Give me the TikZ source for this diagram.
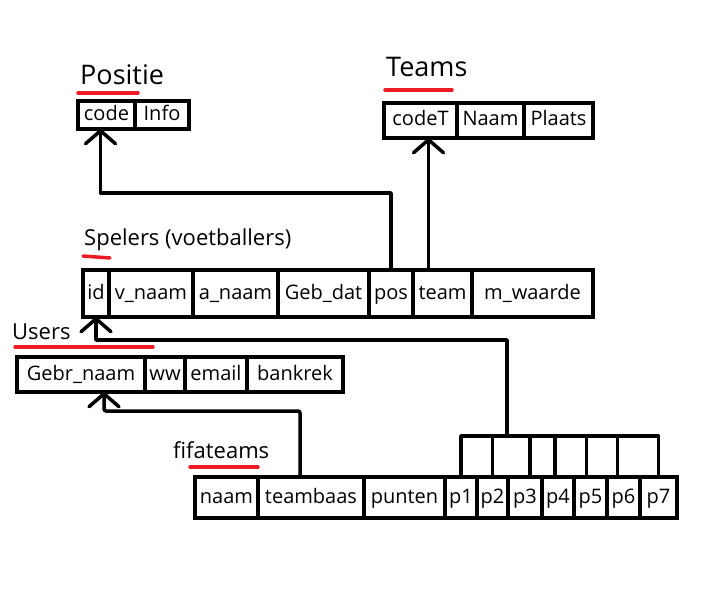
\documentclass[tikz,border=0pt]{standalone}
\usepackage{fontspec}
\setmainfont{Open Sans}
\usetikzlibrary{positioning, arrows.meta}
\definecolor{penred}{RGB}{237,28,36}

\begin{document}
\begin{tikzpicture}[x = 1pt, y = -1pt,
    cell/.style = {draw, line width = 4pt, inner sep = 0pt, outer sep = 0pt, text height = 15pt, text depth = 4pt, font = \fontsize{20}{20}\selectfont},
    title/.style = {inner sep = 0pt, anchor = base west, font = \fontsize{22}{22}\selectfont},
    redline/.style = {draw = penred, line width = 3.5pt, line cap = round},
    link/.style = {line width = 3.5pt, line cap = round, line join = round},
    fk/.style = {link, -{Straight Barb[length = 13pt, width = 30pt, round]}}]
    \fill[white] (0,0) rectangle (710,599);
    \useasboundingbox (0,0) rectangle (710,599);

    % Positie
    \node[title, font = \fontsize{27}{27}\selectfont] (positie) at (80,85) {Positie};
    \draw[redline] (78,93) -- (138,93);
    \begin{scope}[every node/.append style = {minimum height = 28pt}]
        \node[cell, minimum width = 57pt, anchor = north west] (pos-code) at (78,101) {code};
        \node[cell, minimum width = 54pt, right = 0pt of pos-code] (pos-info) {Info};
    \end{scope}

    % Teams
    \node[title, font = \fontsize{27}{27}\selectfont] (teams) at (386,77) {Teams};
    \draw[redline] (385,90) -- (452,90);
    \begin{scope}[every node/.append style = {minimum height = 35pt}]
        \node[cell, minimum width = 73pt, anchor = north west] (tm-codeT) at (384,103) {codeT};
        \node[cell, minimum width = 67pt, right = 0pt of tm-codeT] (tm-naam) {Naam};
        \node[cell, minimum width = 69pt, right = 0pt of tm-naam] (tm-plaats) {Plaats};
    \end{scope}

    % Spelers
    \node[title] (spelers) at (84,245) {Spelers (voetballers)};
    \draw[redline] (83,256) -- (110,258);
    \begin{scope}[every node/.append style = {minimum height = 47pt}]
        \node[cell, minimum width = 26pt, anchor = north west] (sp-id) at (83,270) {id};
        \node[cell, minimum width = 84pt, right = 0pt of sp-id] (sp-vnaam) {v\_naam};
        \node[cell, minimum width = 85pt, right = 0pt of sp-vnaam] (sp-anaam) {a\_naam};
        \node[cell, minimum width = 91pt, right = 0pt of sp-anaam] (sp-gebdat) {Geb\_dat};
        \node[cell, minimum width = 44pt, right = 0pt of sp-gebdat] (sp-pos) {pos};
        \node[cell, minimum width = 59pt, right = 0pt of sp-pos] (sp-team) {team};
        \node[cell, minimum width = 121pt, right = 0pt of sp-team] (sp-mwaarde) {m\_waarde};
    \end{scope}

    % Users
    \node[title] (users) at (12,339) {Users};
    \draw[redline] (15,347) -- (153,347);
    \begin{scope}[every node/.append style = {minimum height = 35pt}]
        \node[cell, minimum width = 128pt, anchor = north west] (us-gebr) at (17,357) {Gebr\_naam};
        \node[cell, minimum width = 40pt, right = 0pt of us-gebr] (us-ww) {ww};
        \node[cell, minimum width = 62pt, right = 0pt of us-ww] (us-email) {email};
        \node[cell, minimum width = 96pt, right = 0pt of us-email] (us-bankrek) {bankrek};
    \end{scope}

    % fifateams
    \node[title] (fifateams) at (173,458) {fifateams};
    \draw[redline] (190,467) -- (258,467);
    \begin{scope}[every node/.append style = {minimum height = 41pt}]
        \node[cell, minimum width = 63pt, anchor = north west] (fi-naam) at (195,477) {naam};
        \node[cell, minimum width = 106pt, right = 0pt of fi-naam] (fi-teambaas) {teambaas};
        \node[cell, minimum width = 81pt, right = 0pt of fi-teambaas] (fi-punten) {punten};
        \node[cell, minimum width = 32pt, right = 0pt of fi-punten] (fi-p1) {p1};
        \node[cell, minimum width = 31pt, right = 0pt of fi-p1] (fi-p2) {p2};
        \node[cell, minimum width = 34pt, right = 0pt of fi-p2] (fi-p3) {p3};
        \node[cell, minimum width = 32pt, right = 0pt of fi-p3] (fi-p4) {p4};
        \node[cell, minimum width = 33pt, right = 0pt of fi-p4] (fi-p5) {p5};
        \node[cell, minimum width = 33pt, right = 0pt of fi-p5] (fi-p6) {p6};
        \node[cell, minimum width = 37pt, right = 0pt of fi-p6] (fi-p7) {p7};
    \end{scope}

    % verwijzingen
    \draw[fk] (sp-pos.north) -- ++(0,-77) -| ([xshift = -6pt]pos-code.south);
    \draw[fk] ([xshift = -14pt]sp-team.north) -- ([xshift = -14pt]sp-team.north |- tm-codeT.south);
    \coordinate (bus) at (507,436);
    \draw[link] (fi-p1.north) |- (fi-p7.north |- bus) -- (fi-p7.north);
    \foreach \p/\s in {2/0, 3/5, 4/-3, 5/-4, 6/-6}
        \draw[link] ([xshift = \s pt]fi-p\p.north) -- ([xshift = \s pt]fi-p\p.north |- bus);
    \draw[fk] (bus) -- ++(0,-96) -| (sp-id.south);
    \draw[fk, rounded corners = 2pt] ([xshift = -11pt]fi-teambaas.north) -- ++(0,-66) -| ([xshift = 23pt]us-gebr.south);
\end{tikzpicture}
\end{document}
